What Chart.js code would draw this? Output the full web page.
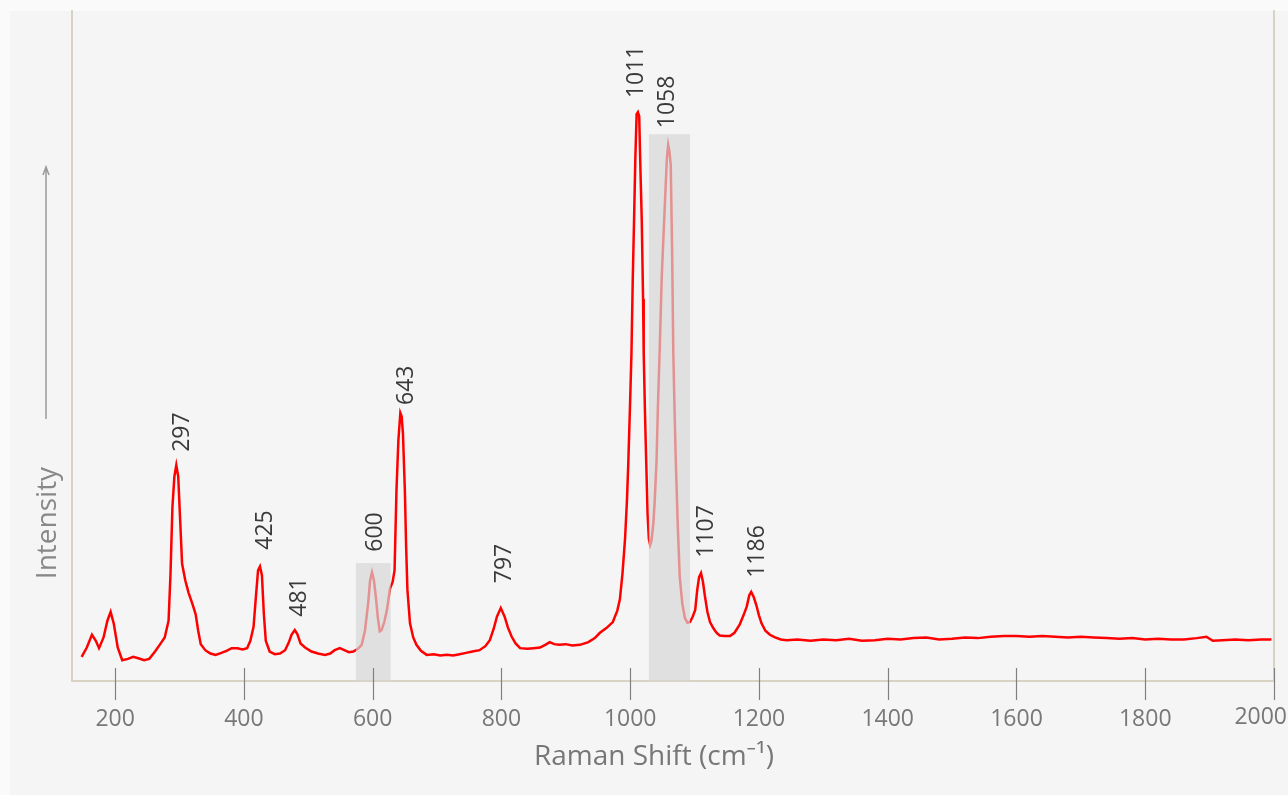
<!DOCTYPE html>
<html><head><meta charset="utf-8">
<script src="https://cdn.jsdelivr.net/npm/chart.js@4.4.1/dist/chart.umd.min.js"></script>
<style>html,body{margin:0;padding:0;background:#fafafa;overflow:hidden}#wrap{width:1288px;height:795px;position:relative}</style>
</head><body><div id="wrap"><canvas id="c" width="1288" height="795"></canvas></div>
<script>
const wavenumbers = [148,156,164,170,175,182,188,193,198,204,211,220,228,236,245,253,262,270,277,283,286,289,292,295,298,301,304,309,314,320,325,329,333,340,348,356,365,373,381,390,398,405,410,415,419,422,425,428,431,434,440,448,456,464,470,474,479,483,488,495,505,515,526,534,541,549,556,563,570,577,583,588,593,596,599,602,605,608,611,614,618,622,627,631,634,637,640,643,645,647,650,652,654,658,663,668,675,684,695,705,715,725,735,745,755,766,775,782,788,793,799,805,810,816,822,829,840,850,860,868,875,882,890,900,910,922,935,945,953,963,973,980,984,988,992,995,997,1000,1002,1004,1006,1008,1010,1012,1014,1016,1018,1020,1021,1023,1025,1027,1029,1031,1033,1036,1038,1041,1043,1046,1049,1052,1054,1057,1059,1061,1063,1065,1067,1069,1071,1074,1077,1081,1085,1089,1093,1097,1101,1104,1107,1110,1113,1116,1120,1124,1129,1134,1139,1147,1155,1162,1170,1176,1181,1185,1188,1192,1196,1200,1204,1210,1217,1225,1234,1243,1260,1280,1300,1320,1340,1360,1380,1400,1420,1440,1460,1480,1500,1520,1540,1560,1580,1600,1620,1640,1660,1680,1700,1720,1740,1760,1780,1800,1820,1840,1860,1880,1895,1905,1920,1940,1960,1980,1996];
const intensities = [3.6,5.0,6.9,6.0,4.9,6.5,9.0,10.3,8.5,5.0,3.1,3.3,3.6,3.4,3.1,3.3,4.4,5.5,6.5,9.0,16,26,30.5,32.2,30.5,24,17.5,15,13.2,11.5,10,7.5,5.5,4.6,4.1,3.9,4.2,4.5,4.9,4.9,4.7,4.9,6.0,8.1,13,16.5,17.1,15.8,10,6.0,4.4,4.0,4.1,4.6,5.8,6.9,7.6,7.0,5.6,5.0,4.4,4.1,3.9,4.1,4.6,4.9,4.6,4.3,4.4,4.8,5.4,7.5,11.6,15,16.2,15.0,12.5,9.5,7.4,7.6,8.8,10.5,13.8,14.8,16.5,28.5,36,40,39.5,37,28.5,20,13.6,8.6,6.5,5.4,4.5,3.9,4.0,3.8,3.9,3.8,4.0,4.2,4.4,4.6,5.2,6.1,7.8,9.6,10.9,9.6,8.0,6.6,5.6,4.9,4.8,4.9,5.0,5.4,5.8,5.5,5.4,5.5,5.3,5.4,5.8,6.4,7.2,7.9,8.8,10.5,12.2,16,21.2,27,32.3,42,49,60,68.7,78,84.6,84.9,84.3,76,68.7,57,49,40,32.3,25,21.2,20.3,20.9,23.5,26.7,33,40.7,50,60.3,67,71.5,78,80,79,77,65,49,40,32.3,23,15.5,11.5,9.4,8.7,8.8,9.6,10.6,13.5,15.5,16.1,14.8,12.7,10.3,8.8,7.9,7.2,6.8,6.7,6.7,7.2,8.4,9.8,11.1,12.8,13.3,12.5,11.3,9.8,8.6,7.5,6.9,6.5,6.2,6.1,6.2,6.0,6.2,6.1,6.3,6.0,6.1,6.3,6.2,6.4,6.5,6.2,6.3,6.5,6.4,6.6,6.7,6.7,6.6,6.7,6.6,6.5,6.6,6.5,6.4,6.3,6.4,6.2,6.3,6.2,6.2,6.4,6.6,6.0,6.1,6.2,6.1,6.2,6.2];
const xTickValues = [200,400,600,800,1000,1200,1400,1600,1800,2000];
const peakLabels = ['297','425','481','600','643','797','1011','1058','1107','1186'];
const peakLabelX = [304,433,487,604,653,805,1010,1058,1119,1197];
const peakLabelY = [34.2,19.6,9.6,19.3,41.2,14.6,87,82.5,18.4,15.4];
const bandStart = [574,1029];
const bandEnd = [628,1093];
const bandTop = [17.6,81.6];
const xTitle = 'Raman Shift (cm\u207B\u00B9)';
const yTitle = 'Intensity';

const FONT = "'Open Sans', 'Noto Sans', sans-serif";
Chart.defaults.font.family = FONT;
const TICK_FONT = 23;
const lastTick = xTickValues[xTickValues.length - 1];

const deco = {
  id: 'deco',
  beforeDraw(chart) {
    const c = chart.ctx;
    c.save();
    c.fillStyle = '#fafafa';
    c.fillRect(0, 0, chart.width, chart.height);
    c.fillStyle = '#f5f5f5';
    c.fillRect(10, 11, chart.width - 10, chart.height - 11);
    c.restore();
  },
  afterDatasetsDraw(chart) {
    const c = chart.ctx, xs = chart.scales.x, ys = chart.scales.y, a = chart.chartArea;
    c.save();
    c.fillStyle = 'rgba(214,214,214,0.68)';
    for (let i = 0; i < bandStart.length; i++) {
      const x0 = xs.getPixelForValue(bandStart[i]), x1 = xs.getPixelForValue(bandEnd[i]);
      const yt = ys.getPixelForValue(bandTop[i]);
      c.fillRect(x0, yt, x1 - x0, a.bottom - yt);
    }
    c.fillStyle = '#3a3a3a';
    c.font = '23px ' + FONT;
    c.textAlign = 'left';
    c.textBaseline = 'middle';
    for (let i = 0; i < peakLabels.length; i++) {
      c.save();
      c.translate(xs.getPixelForValue(peakLabelX[i]), ys.getPixelForValue(peakLabelY[i]));
      c.rotate(-Math.PI / 2);
      c.fillText(peakLabels[i], 0, 0);
      c.restore();
    }
    c.restore();
  },
  afterDraw(chart) {
    const c = chart.ctx, xs = chart.scales.x, a = chart.chartArea;
    c.save();
    c.strokeStyle = '#808080';
    c.lineWidth = 1.2;
    for (const v of xTickValues) {
      const px = Math.round(xs.getPixelForValue(v)) + 0.5;
      c.beginPath();
      c.moveTo(px, a.bottom - 13);
      c.lineTo(px, a.bottom + 19);
      c.stroke();
    }
    // last tick label, kept inside the canvas
    c.fillStyle = '#777';
    c.font = TICK_FONT + 'px ' + FONT;
    c.textAlign = 'right';
    c.textBaseline = 'middle';
    c.fillText(String(lastTick), chart.width - 1, 717);
    // x title
    c.font = '28px ' + FONT;
    c.textAlign = 'center';
    c.fillText(xTitle, 654, 757);
    // y title
    c.fillStyle = '#888';
    c.font = '28px ' + FONT;
    c.translate(48, 523);
    c.rotate(-Math.PI / 2);
    c.fillText(yTitle, 0, 0);
    c.restore();
    c.save();
    c.strokeStyle = '#9a9a9a';
    c.lineWidth = 1.5;
    c.beginPath();
    c.moveTo(46, 419); c.lineTo(46, 167);
    c.moveTo(43, 175); c.lineTo(46, 167); c.lineTo(49, 175);
    c.stroke();
    c.restore();
  }
};

new Chart(document.getElementById('c'), {
  type: 'line',
  data: {
    datasets: [{
      data: wavenumbers.map((x, i) => ({ x: x, y: intensities[i] })),
      borderColor: 'rgb(255,0,0)',
      borderWidth: 2.5,
      pointRadius: 0,
      tension: 0,
      fill: false
    }]
  },
  options: {
    responsive: false,
    animation: false,
    devicePixelRatio: 1,
    layout: { padding: { left: 72, right: 14, top: 11, bottom: 0 } },
    plugins: { legend: { display: false }, tooltip: { enabled: false } },
    scales: {
      x: {
        type: 'linear', min: 133, max: 2000,
        afterBuildTicks(s) { s.ticks = xTickValues.map(v => ({ value: v })); },
        afterFit(s) { s.height = 114; s.paddingLeft = 0; s.paddingRight = 0; },
        grid: { display: true, drawOnChartArea: false, drawTicks: false, color: 'rgba(0,0,0,0)' },
        border: { display: true, color: '#d7d2c2', width: 2 },
        ticks: { color: '#777', font: { size: TICK_FONT }, padding: 25, maxRotation: 0, autoSkip: false,
                 callback: (v) => (v === lastTick ? '' : String(v)) },
        title: { display: false }
      },
      y: {
        min: 0, max: 100, position: 'left',
        afterFit(s) { s.width = 0; },
        ticks: { display: false },
        grid: { display: true, drawOnChartArea: false, drawTicks: false, color: 'rgba(0,0,0,0)' },
        border: { display: true, color: '#d7d2c2', width: 2 }
      },
      y2: {
        min: 0, max: 100, position: 'right',
        afterFit(s) { s.width = 0; },
        ticks: { display: false },
        grid: { display: true, drawOnChartArea: false, drawTicks: false, color: 'rgba(0,0,0,0)' },
        border: { display: true, color: '#d7d2c2', width: 2 }
      }
    }
  },
  plugins: [deco]
});
</script></body></html>
